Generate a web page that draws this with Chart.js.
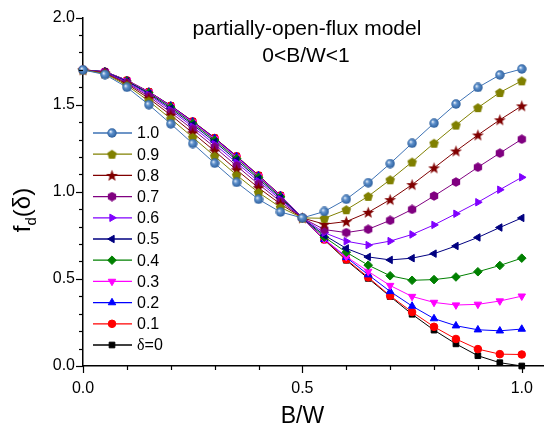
<!DOCTYPE html>
<html><head><meta charset="utf-8">
<script src="https://cdn.jsdelivr.net/npm/chart.js@4"></script>
<style>html,body{margin:0;padding:0;background:#fff;} canvas{display:block;}</style>
</head><body>
<canvas id="c" width="549" height="430"></canvas>
<script>
// ---- data ----
const bw = [0,0.05,0.1,0.15,0.2,0.25,0.3,0.35,0.4,0.45,0.5,0.55,0.6,0.65,0.7,0.75,0.8,0.85,0.9,0.95,1.0];
const d10 = [1.70,1.673,1.60,1.50,1.39,1.277,1.164,1.054,0.957,0.884,0.85,0.887,0.957,1.052,1.162,1.279,1.394,1.504,1.599,1.671,1.705];
const d09 = [1.70,1.678,1.611,1.521,1.419,1.313,1.205,1.096,0.996,0.911,0.85,0.848,0.897,0.974,1.069,1.171,1.279,1.383,1.483,1.570,1.637];
const d08 = [1.70,1.681,1.619,1.536,1.440,1.338,1.234,1.126,1.023,0.930,0.85,0.814,0.829,0.882,0.955,1.041,1.137,1.234,1.326,1.413,1.493];
const d07 = [1.70,1.684,1.625,1.547,1.456,1.358,1.256,1.149,1.044,0.944,0.85,0.783,0.766,0.785,0.836,0.899,0.976,1.056,1.141,1.222,1.302];
const d06 = [1.70,1.686,1.630,1.556,1.469,1.373,1.273,1.167,1.060,0.956,0.85,0.765,0.716,0.694,0.717,0.755,0.810,0.874,0.940,1.012,1.083];
const d05 = [1.70,1.687,1.634,1.563,1.478,1.385,1.287,1.181,1.073,0.965,0.85,0.751,0.675,0.626,0.609,0.619,0.645,0.689,0.738,0.795,0.850];
const d04 = [1.70,1.688,1.636,1.568,1.486,1.393,1.297,1.191,1.083,0.971,0.85,0.740,0.653,0.579,0.518,0.492,0.496,0.511,0.541,0.577,0.619];
const d03 = [1.70,1.689,1.638,1.572,1.490,1.399,1.303,1.198,1.089,0.976,0.85,0.728,0.628,0.543,0.462,0.399,0.365,0.350,0.354,0.373,0.401];
const d02 = [1.70,1.690,1.639,1.573,1.493,1.402,1.307,1.202,1.092,0.978,0.85,0.727,0.624,0.524,0.428,0.344,0.272,0.231,0.208,0.202,0.212];
const d01 = [1.70,1.690,1.640,1.574,1.494,1.404,1.309,1.204,1.094,0.979,0.85,0.726,0.612,0.509,0.403,0.310,0.225,0.155,0.097,0.068,0.066];
const d00 = [1.70,1.690,1.640,1.575,1.495,1.405,1.310,1.205,1.095,0.980,0.85,0.724,0.607,0.503,0.399,0.297,0.206,0.127,0.059,0.019,0.000];
const seriesLabels = ['1.0','0.9','0.8','0.7','0.6','0.5','0.4','0.3','0.2','0.1','δ=0'];
const seriesValues = [d10,d09,d08,d07,d06,d05,d04,d03,d02,d01,d00];
const xTickLabels = [0,0.5,1.0];
const xMinorTicks = [0,0.1,0.2,0.3,0.4,0.5,0.6,0.7,0.8,0.9,1.0];
const yTickLabels = [0,0.5,1.0,1.5,2.0];
const yMinorTicks = [0,0.1,0.2,0.3,0.4,0.5,0.6,0.7,0.8,0.9,1.0,1.1,1.2,1.3,1.4,1.5,1.6,1.7,1.8,1.9,2.0];

// ---- marker images ----
function mk(size, fn){ const c=document.createElement('canvas'); c.width=size; c.height=size; fn(c.getContext('2d'), size/2); return c; }
function poly(g, cx, cy, n, r, a0){ g.beginPath(); for(let k=0;k<n;k++){ const a=a0+k*2*Math.PI/n; const px=cx+r*Math.cos(a), py=cy+r*Math.sin(a); k?g.lineTo(px,py):g.moveTo(px,py);} g.closePath(); }
const sphere = mk(10,(g,c)=>{ const gr=g.createRadialGradient(c-1.5,c-1.5,0.3,c,c,c); gr.addColorStop(0,'#e6eef8'); gr.addColorStop(0.35,'#5d90cc'); gr.addColorStop(1,'#285a98'); g.fillStyle=gr; g.beginPath(); g.arc(c,c,c-0.3,0,2*Math.PI); g.fill(); });
const pentagon = mk(11,(g,c)=>{ g.fillStyle='#808000'; poly(g,c,c+0.4,5,5,-Math.PI/2); g.fill(); });
const hexagon = mk(10,(g,c)=>{ g.fillStyle='#800080'; poly(g,c,c,6,4.8,-Math.PI/2); g.fill(); });
const star = mk(13,(g,c)=>{ g.fillStyle='#800000'; g.beginPath(); for(let k=0;k<10;k++){ const r=k%2?2.6:6.2; const a=-Math.PI/2+k*Math.PI/5; const px=c+r*Math.cos(a), py=c+0.5+r*Math.sin(a); k?g.lineTo(px,py):g.moveTo(px,py);} g.closePath(); g.fill(); });

const colors = ['#3d72b4','#808000','#800000','#800080','#8000ff','#000080','#008000','#ff00ff','#0000ff','#ff0000','#000000'];
const styles = [sphere,pentagon,star,hexagon,'triangle','triangle','rectRot','triangle','triangle','circle','rect'];
const rots = [0,0,0,0,90,-90,0,180,0,0,0];
const radii = [4,4,4,4,4.3,4.3,4.3,4.3,4.3,3.8,4];

const datasets = seriesValues.map((vals,i)=>({
  label: seriesLabels[i],
  data: bw.map((x,j)=>({x:x,y:vals[j]})),
  borderColor: colors[i], backgroundColor: colors[i],
  pointBackgroundColor: colors[i], pointBorderColor: colors[i],
  pointStyle: styles[i], pointRotation: rots[i], pointRadius: radii[i], pointBorderWidth: 1,
  borderWidth: 1, tension: 0, clip: false
}));

const FONT = "'Liberation Sans', Arial, sans-serif";

function drawMarker(ctx, style, rot, r, x, y, color){
  ctx.save(); ctx.translate(x,y); ctx.rotate(rot*Math.PI/180);
  ctx.fillStyle=color; ctx.strokeStyle=color; ctx.lineWidth=1;
  if (typeof style !== 'string'){ ctx.drawImage(style,-style.width/2,-style.height/2); ctx.restore(); return; }
  ctx.beginPath();
  if (style==='circle'){ ctx.arc(0,0,r,0,2*Math.PI); }
  else if (style==='rect'){ const s=r*Math.SQRT1_2*2; ctx.rect(-s/2,-s/2,s,s); }
  else if (style==='rectRot'){ ctx.moveTo(0,-r); ctx.lineTo(r,0); ctx.lineTo(0,r); ctx.lineTo(-r,0); ctx.closePath(); }
  else if (style==='triangle'){ ctx.moveTo(0,-r); ctx.lineTo(r*0.866,r*0.5); ctx.lineTo(-r*0.866,r*0.5); ctx.closePath(); }
  ctx.fill(); ctx.stroke(); ctx.restore();
}

const decor = {
  id:'decor',
  afterDraw(chart){
    const ctx=chart.ctx, xs=chart.scales.x, ys=chart.scales.y;
    const x0=xs.getPixelForValue(0), y0=ys.getPixelForValue(0);
    ctx.save();
    ctx.strokeStyle='#000'; ctx.lineWidth=1.2;
    xMinorTicks.forEach(v=>{ const p=Math.round(xs.getPixelForValue(v))+0.5; const L=xTickLabels.includes(v)?7:4; ctx.beginPath(); ctx.moveTo(p,y0); ctx.lineTo(p,y0+L); ctx.stroke(); });
    yMinorTicks.forEach(v=>{ const p=Math.round(ys.getPixelForValue(v))+0.5; const L=yTickLabels.includes(v)?7:4; ctx.beginPath(); ctx.moveTo(x0,p); ctx.lineTo(x0-L,p); ctx.stroke(); });
    // title
    ctx.fillStyle='#000'; ctx.textAlign='center'; ctx.textBaseline='alphabetic';
    ctx.font='21px '+FONT;
    ctx.fillText('partially-open-flux model', 307, 35);
    ctx.fillText('0<B/W<1', 306, 62);
    // x title
    ctx.font='23px '+FONT;
    ctx.fillText('B/W', xs.getPixelForValue(0.5), 423);
    // y title f_d(δ)
    ctx.save(); ctx.translate(30,210); ctx.rotate(-Math.PI/2);
    const big='24px '+FONT, small='15px '+FONT;
    ctx.font=big; const wf=ctx.measureText('f').width; const wp=ctx.measureText('(δ)').width;
    ctx.font=small; const wd=ctx.measureText('d').width;
    let sx=-(wf+wd+wp)/2;
    ctx.textAlign='left';
    ctx.font=big; ctx.fillText('f',sx,0); sx+=wf;
    ctx.font=small; ctx.fillText('d',sx,6); sx+=wd;
    ctx.font=big; ctx.fillText('(δ)',sx,0);
    ctx.restore();
    // legend
    chart.data.datasets.forEach((ds,i)=>{
      const y=133+i*21.2;
      ctx.strokeStyle=ds.borderColor; ctx.lineWidth=1.3;
      ctx.beginPath(); ctx.moveTo(93,y); ctx.lineTo(132,y); ctx.stroke();
      drawMarker(ctx, ds.pointStyle, ds.pointRotation, ds.pointRadius, 112, y, ds.pointBackgroundColor);
      ctx.fillStyle='#000'; ctx.textAlign='left'; ctx.textBaseline='middle';
      if (ds.label==='δ=0'){
        ctx.font="16px 'Liberation Serif', serif"; ctx.fillText('δ',137,y+1);
        const w=ctx.measureText('δ').width; ctx.font='16px '+FONT; ctx.fillText('=0',137+w,y+1);
      } else { ctx.font='16px '+FONT; ctx.fillText(ds.label,137,y+1); }
    });
    ctx.restore();
  }
};

new Chart(document.getElementById('c'), {
  type:'line',
  data:{datasets:datasets},
  options:{
    responsive:false, animation:false, devicePixelRatio:1,
    layout:{padding:{top:14,right:0,left:0,bottom:0}},
    plugins:{legend:{display:false}, tooltip:{enabled:false}},
    scales:{
      x:{type:'linear', min:0, max:1.05,
        afterBuildTicks:(s)=>{ s.ticks=xTickLabels.map(v=>({value:v})); },
        afterFit:(s)=>{ s.height=64; },
        grid:{display:false, drawTicks:false},
        border:{display:true, color:'#000', width:1.5},
        ticks:{font:{family:FONT,size:16}, color:'#000', padding:13, maxRotation:0, autoSkip:false, callback:(v)=>Number(v).toFixed(1)}
      },
      y:{type:'linear', min:0, max:2,
        afterBuildTicks:(s)=>{ s.ticks=yTickLabels.map(v=>({value:v})); },
        afterFit:(s)=>{ s.width=83; },
        grid:{display:false, drawTicks:false},
        border:{display:true, color:'#000', width:1.5},
        ticks:{font:{family:FONT,size:16}, color:'#000', padding:8, autoSkip:false, callback:(v)=>Number(v).toFixed(1)}
      }
    }
  },
  plugins:[decor]
});
</script>
</body></html>
